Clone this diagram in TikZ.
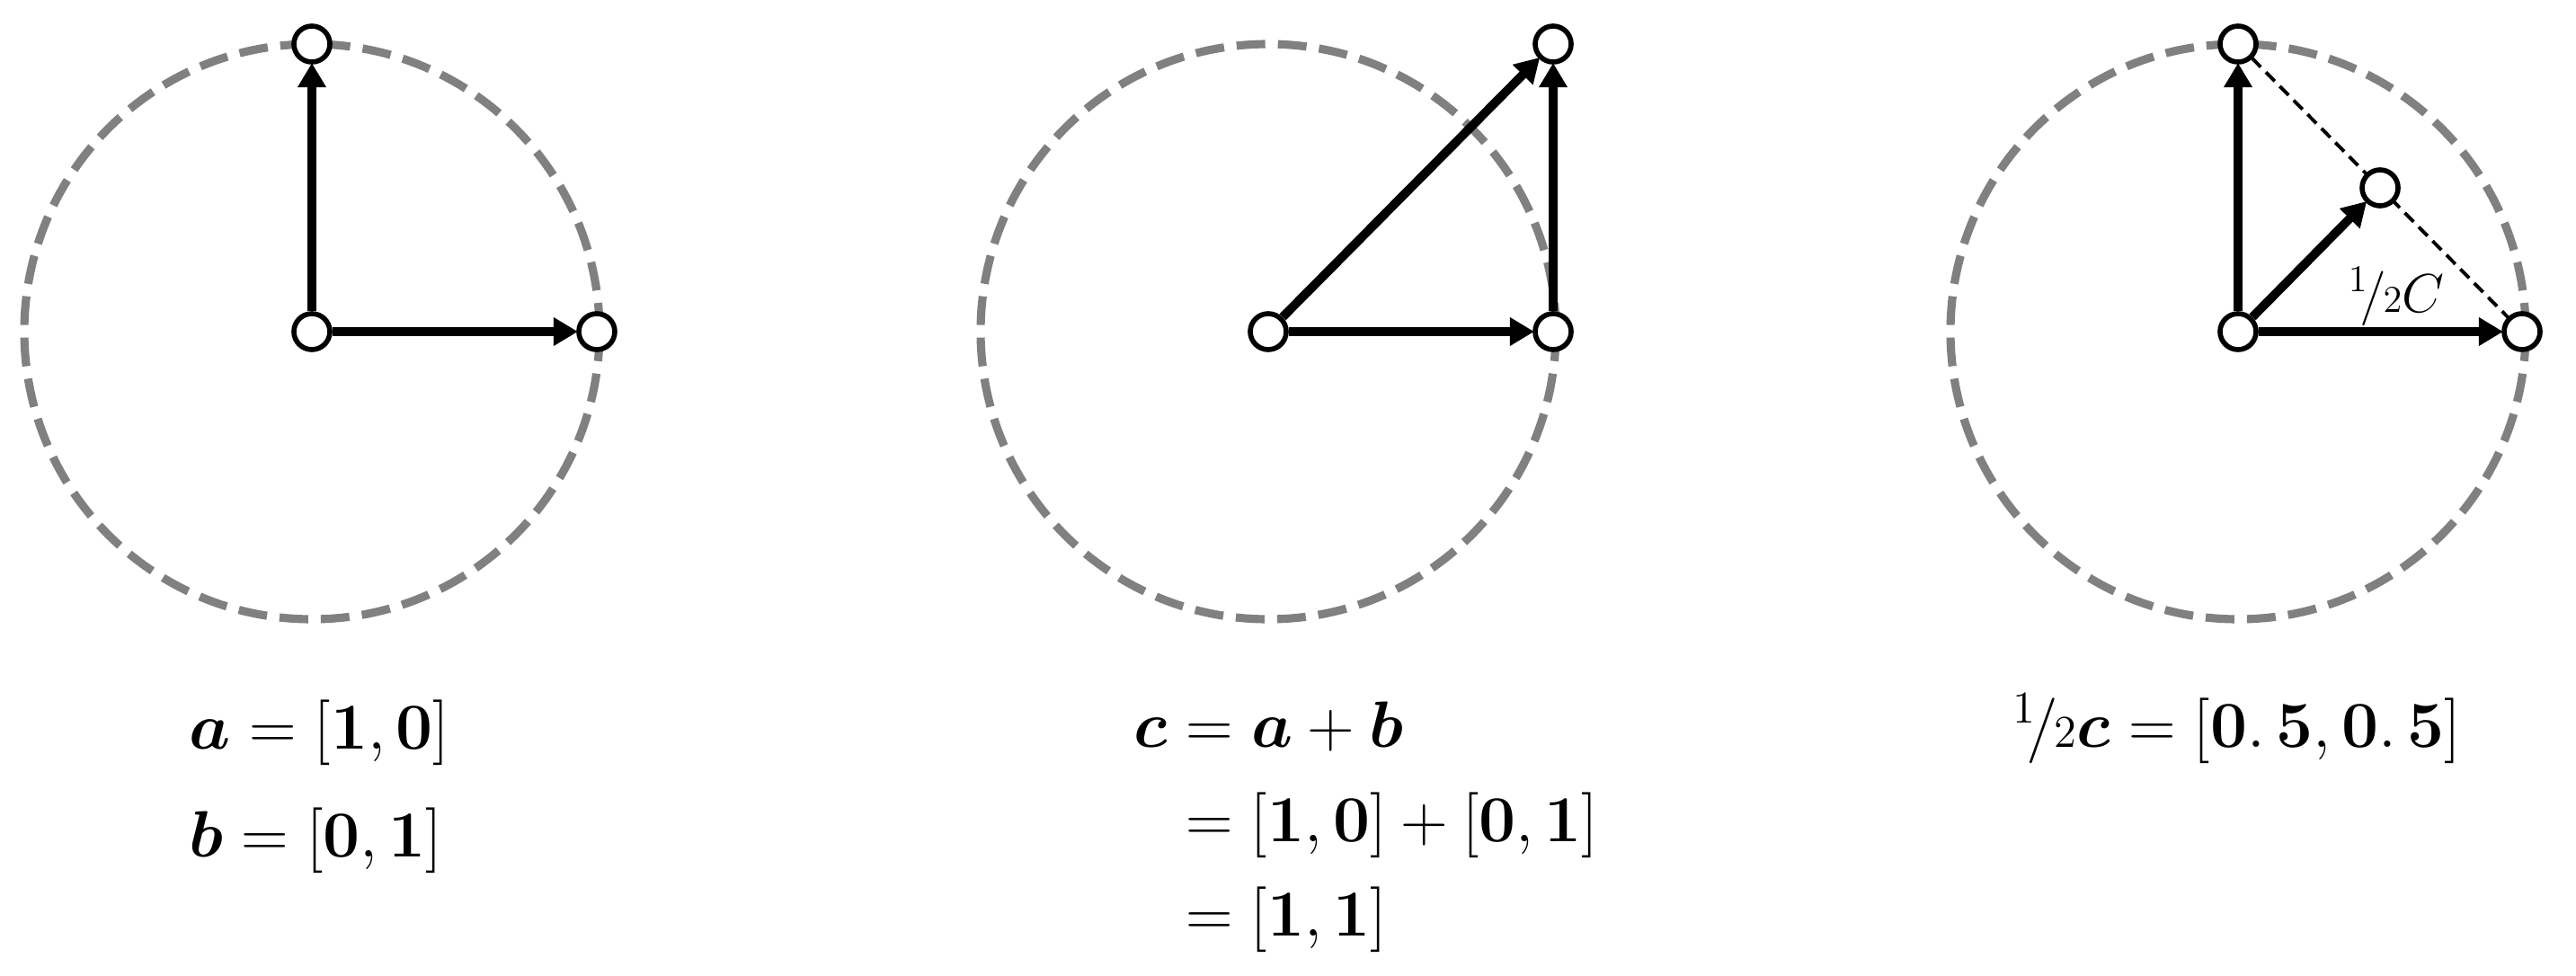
\documentclass[tikz,border=0pt]{standalone}
\usepackage{amsmath}
\usepackage{tikz}
\usetikzlibrary{arrows.meta}
\newcommand{\halfsign}{{}^{1}\mkern-3mu/\mkern-1mu{\scriptstyle 2}}

\begin{document}
\begin{tikzpicture} [pt/.style={circle, draw, fill=white, line width=1.6pt, inner sep=0pt, minimum size=.40cm},
vec/.style={line width=2.8pt, -{Triangle[length=.27cm, width=.30cm]}, shorten >=-.5pt},
ring/.style={draw=gray, line width=2.6pt, dash pattern=on .32cm off .14cm},
guide/.style={line width=1.1pt, dash pattern=on .14cm off .08cm},
eq/.style={inner sep=0pt, font=\fontsize{21}{27}\selectfont}]
\useasboundingbox (0,0) rectangle (28.66,-10.85);
\draw [ring] (3.47,-3.69) circle (3.2);
\draw [ring] (14.11,-3.69) circle (3.2);
\draw [ring] (24.90,-3.69) circle (3.2);
\draw [guide] (24.90,-0.49) -- (28.06,-3.69);
\node[pt] (o1) at (3.47,-3.69) {};
\node[pt] (b1) at (3.47,-0.49) {};
\node[pt] (a1) at (6.64,-3.69) {};
\node[pt] (o2) at (14.11,-3.69) {};
\node[pt] (a2) at (17.28,-3.69) {};
\node[pt] (c2) at (17.28,-0.49) {};
\node[pt] (o3) at (24.90,-3.69) {};
\node[pt] (b3) at (24.90,-0.49) {};
\node[pt] (a3) at (28.06,-3.69) {};
\node[pt] (h3) at (26.48,-2.09) {};
\draw [vec] (o1) -- (b1);
\draw [vec] (o1) -- (a1);
\draw [vec] (o2) -- (a2);
\draw [vec] (a2) -- (c2);
\draw [vec] (o2) -- (c2);
\draw [vec] (o3) -- (b3);
\draw [vec] (o3) -- (a3);
\draw [vec] (o3) -- (h3);
\node[font=\fontsize{18}{22}\selectfont, inner sep=1pt] (lh) at (26.66,-3.30) {$\halfsign C$};
\node[eq, anchor=base west] (ea) at (2.10,-8.33) {$\boldsymbol{a} = [\mathbf{1},\mathbf{0}]$};
\node[eq, anchor=base west] (eb) at (2.10,-9.53) {$\boldsymbol{b} = [\mathbf{0},\mathbf{1}]$};
\node[eq, anchor=base west] (ec) at (12.61,-8.31) {$\begin{aligned}[t] \boldsymbol{c} &= \boldsymbol{a} + \boldsymbol{b}\\ &= [\mathbf{1},\mathbf{0}] + [\mathbf{0},\mathbf{1}]\\ &= [\mathbf{1},\mathbf{1}]\end{aligned}$};
\node[eq, anchor=base west] (eh) at (22.39,-8.31) {$\halfsign\boldsymbol{c} = [\mathbf{0.\,5},\mathbf{0.\,5}]$};
\end{tikzpicture}
\end{document}
